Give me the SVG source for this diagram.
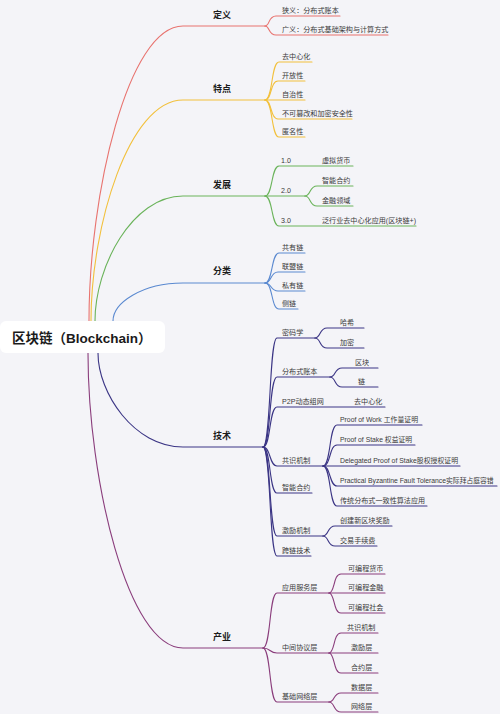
<svg xmlns="http://www.w3.org/2000/svg" width="500" height="714" viewBox="0 0 500 714">
<style>
text{font-family:"Liberation Sans","Noto Sans CJK SC",sans-serif}
.c{font-size:7.1px;fill:#3a3a3a}
.m{font-size:9px;font-weight:bold;fill:#1c1c1c}
.r{font-size:13.5px;font-weight:bold;fill:#1a1a1a}
.k path{fill:none;stroke-width:1.1;stroke-linecap:round}
.red path{stroke:#e8736f}
.gold path{stroke:#f2c03c}
.green path{stroke:#6ab35a}
.blue path{stroke:#5a89d0}
.ind path{stroke:#3b3585}
.plum path{stroke:#8a3d7c}
</style>
<rect width="500" height="714" fill="#f4f4f8"/>
<g id="connectors" class="k">
<g class="red">
<path d="M89,321 C89,194 128,26 183,26 L265,26"/>
<path d="M265,26 C270,26 268,16 276,16 L340,16"/>
<path d="M265,26 C270,26 268,35 276,35 L388,35"/>
</g>
<g class="gold">
<path d="M91,321 C91,226 129,100 183,100 L265,100"/>
<path d="M265,100 C273,100 271,62 279,62 L312,62"/>
<path d="M265,100 C272,100 270,81 278,81 L305,81"/>
<path d="M265,100 L305,100"/>
<path d="M265,100 C272,100 270,119 278,119 L352,119"/>
<path d="M265,100 C273,100 271,137 279,137 L305,137"/>
</g>
<g class="green">
<path d="M95,321 C95,267 132,196 183,196 L265,196"/>
<path d="M265,196 C273,196 271,166 279,166 L353,166"/>
<path d="M265,196 L305,196"/>
<path d="M305,196 C311,196 309,186 317,186 L353,186"/>
<path d="M305,196 C311,196 309,206 317,206 L353,206"/>
<path d="M265,196 C273,196 271,226 279,226 L416,226"/>
</g>
<g class="blue">
<path d="M113,321 C113,303 142,283 183,283 L265,283"/>
<path d="M265,283 C273,283 271,253 279,253 L305,253"/>
<path d="M265,283 C272,283 270,272 278,272 L305,272"/>
<path d="M265,283 C272,283 270,291 278,291 L305,291"/>
<path d="M265,283 C273,283 271,309 279,309 L298,309"/>
</g>
<g class="ind">
<path d="M98,353 C98,393 134,447 183,447 L263,447"/>
<path d="M263,447 C271,447 269,338 277,338 L315,338"/>
<path d="M315,338 C321,338 319,328 327,328 L364,328"/>
<path d="M315,338 C321,338 319,348 327,348 L364,348"/>
<path d="M263,447 C271,447 269,377 277,377 L330,377"/>
<path d="M330,377 C336,377 334,368 342,368 L378,368"/>
<path d="M330,377 C336,377 334,387 342,387 L378,387"/>
<path d="M263,447 C271,447 269,407 277,407 L385,407"/>
<path d="M263,447 C271,447 269,466 277,466 L323,466"/>
<path d="M323,466 C331,466 329,425 337,425 L422,425"/>
<path d="M323,466 C331,466 329,445 337,445 L415,445"/>
<path d="M323,466 L460,466"/>
<path d="M323,466 C331,466 329,486 337,486 L497,486"/>
<path d="M323,466 C331,466 329,506 337,506 L427,506"/>
<path d="M263,447 C271,447 269,493 277,493 L312,493"/>
<path d="M263,447 C271,447 269,536 277,536 L323,536"/>
<path d="M323,536 C329,536 327,526 335,526 L392,526"/>
<path d="M323,536 C329,536 327,546 335,546 L377,546"/>
<path d="M263,447 C271,447 269,556 277,556 L311,556"/>
</g>
<g class="plum">
<path d="M88,353 C88,480 128,648 183,648 L263,648"/>
<path d="M263,648 C271,648 269,593 277,593 L329,593"/>
<path d="M329,593 C335,593 333,574 341,574 L385,574"/>
<path d="M329,593 L385,593"/>
<path d="M329,593 C335,593 333,613 341,613 L385,613"/>
<path d="M263,648 C271,648 269,653 277,653 L329,653"/>
<path d="M329,653 C335,653 333,633 341,633 L378,633"/>
<path d="M329,653 L378,653"/>
<path d="M329,653 C335,653 333,673 341,673 L378,673"/>
<path d="M263,648 C271,648 269,702 277,702 L329,702"/>
<path d="M329,702 C335,702 333,693 341,693 L378,693"/>
<path d="M329,702 C335,702 333,712 341,712 L378,712"/>
</g>
</g>
<g id="root"><rect x="0" y="321" width="165" height="32" rx="6" fill="#ffffff"/><text class="r" x="12" y="342.5">区块链（Blockchain）</text></g>
<g id="dingyi"><text class="m" x="213" y="17.5">定义</text>
<text class="c" x="282" y="12.5">狭义：分布式账本</text>
<text class="c" x="282" y="31.5">广义：分布式基础架构与计算方式</text></g>
<g id="tedian"><text class="m" x="213" y="91.5">特点</text>
<text class="c" x="282" y="58.5">去中心化</text>
<text class="c" x="282" y="77.5">开放性</text>
<text class="c" x="282" y="96.5">自治性</text>
<text class="c" x="282" y="115.5">不可篡改和加密安全性</text>
<text class="c" x="282" y="133.5">匿名性</text></g>
<g id="fazhan"><text class="m" x="213" y="187.5">发展</text>
<text class="c" x="281" y="162.5">1.0</text>
<text class="c" x="322" y="162.5">虚拟货币</text>
<text class="c" x="281" y="192.5">2.0</text>
<text class="c" x="322" y="182.5">智能合约</text>
<text class="c" x="322" y="202.5">金融领域</text>
<text class="c" x="281" y="222.5">3.0</text>
<text class="c" x="322" y="222.5">泛行业去中心化应用(区块链+)</text></g>
<g id="fenlei"><text class="m" x="213" y="274">分类</text>
<text class="c" x="282" y="249.5">共有链</text>
<text class="c" x="282" y="268.5">联盟链</text>
<text class="c" x="282" y="287.5">私有链</text>
<text class="c" x="282" y="305.5">侧链</text></g>
<g id="jishu"><text class="m" x="213" y="438.5">技术</text>
<text class="c" x="282" y="334.5">密码学</text>
<text class="c" x="340" y="324.5">哈希</text>
<text class="c" x="340" y="344.5">加密</text>
<text class="c" x="282" y="373.5">分布式账本</text>
<text class="c" x="355" y="364.5">区块</text>
<text class="c" x="358" y="383.5">链</text>
<text class="c" x="282" y="403.5">P2P动态组网</text>
<text class="c" x="354" y="403.5">去中心化</text>
<text class="c" x="282" y="462.5">共识机制</text>
<text class="c" x="340" y="421.5" textLength="78" lengthAdjust="spacingAndGlyphs">Proof of Work 工作量证明</text>
<text class="c" x="340" y="441.5" textLength="72" lengthAdjust="spacingAndGlyphs">Proof of Stake 权益证明</text>
<text class="c" x="340" y="462.5" textLength="118" lengthAdjust="spacingAndGlyphs">Delegated Proof of Stake股权授权证明</text>
<text class="c" x="340" y="482.5" style="font-size:6.8px">Practical Byzantine Fault Tolerance实际拜占庭容错</text>
<text class="c" x="340" y="502.5">传统分布式一致性算法应用</text>
<text class="c" x="282" y="489.5">智能合约</text>
<text class="c" x="282" y="532.5">激励机制</text>
<text class="c" x="340" y="522.5">创建新区块奖励</text>
<text class="c" x="340" y="542.5">交易手续费</text>
<text class="c" x="282" y="552.5">跨链技术</text></g>
<g id="chanye"><text class="m" x="213" y="640">产业</text>
<text class="c" x="282" y="589.5">应用服务层</text>
<text class="c" x="348" y="570.5">可编程货币</text>
<text class="c" x="348" y="589.5">可编程金融</text>
<text class="c" x="348" y="609.5">可编程社会</text>
<text class="c" x="282" y="649.5">中间协议层</text>
<text class="c" x="347" y="629.5">共识机制</text>
<text class="c" x="351" y="649.5">激励层</text>
<text class="c" x="351" y="669.5">合约层</text>
<text class="c" x="282" y="698.5">基础网络层</text>
<text class="c" x="351" y="689.5">数据层</text>
<text class="c" x="351" y="708.5">网络层</text></g>
</svg>
